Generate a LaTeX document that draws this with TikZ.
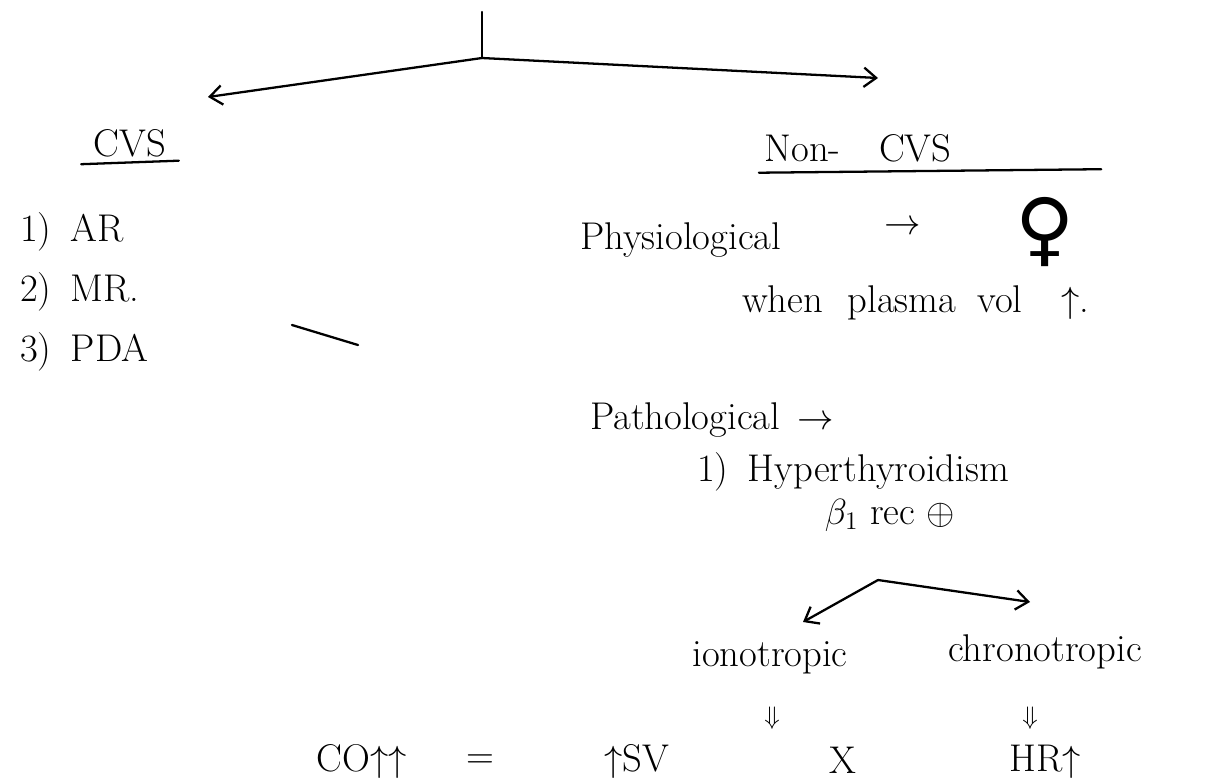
\documentclass[tikz,border=0pt]{standalone}
\usepackage{fontspec}
\newfontfamily\symbolfont{DejaVu Sans}
\usetikzlibrary{arrows.meta}
\tikzset{
  note/.style={font=\fontsize{22}{26}\selectfont, inner sep=1pt},
  small note/.style={font=\fontsize{15}{18}\selectfont, inner sep=1pt},
  pen/.style={line width=1.3pt, line cap=round},
  branch/.style={pen, -{Straight Barb[length=7pt,width=11pt,line width=1.3pt]}},
}

\begin{document}
\begin{tikzpicture}[x=0.02cm,y=-0.02cm]
\useasboundingbox (0,0) rectangle (1227,782);
\coordinate (top) at (482,12);
\coordinate (root) at (482,58);
\coordinate (cvs end) at (208,97);
\coordinate (noncvs end) at (878,78);
\draw[pen] (top) -- (root);
\draw[branch] (root) -- (cvs end);
\draw[branch] (root) -- (noncvs end);
\node[note] (cvs) at (130,143) {CVS};
\draw[pen] ([xshift=-6pt,yshift=-3pt]cvs.south west) -- ([xshift=6pt,yshift=-1pt]cvs.south east);
\node[note,anchor=west] (ar) at (18,232) {1)\enspace AR};
\node[note,anchor=west] (mr) at (18,292) {2)\enspace MR.};
\node[note,anchor=west] (pda) at (18,352) {3)\enspace PDA};
\coordinate (stroke a) at (292,325);
\coordinate (stroke b) at (358,345);
\draw[pen] (stroke a) -- (stroke b);
\node[note] (noncvs) at (858,148) {Non-\quad CVS};
\draw[pen] ([xshift=-2pt,yshift=-5pt]noncvs.south west) -- ([xshift=84pt,yshift=-3pt]noncvs.south east);
\node[note,anchor=west] (phys) at (578,240) {Physiological};
\node[note] (phys arrow) at (903,228) {$\rightarrow$};
\node[font=\symbolfont\fontsize{46}{50}\selectfont, inner sep=0pt] (female) at (1045,232) {♀};
\node[note,anchor=west] (plasma) at (740,303) {when\hspace{14pt}plasma\hspace{12pt}vol\hspace{22pt}$\uparrow$.};
\node[note,anchor=west] (patho) at (588,420) {Pathological\hspace{10pt}$\rightarrow$};
\node[note,anchor=west] (hyper) at (695,472) {1)\enspace{\addfontfeatures{LetterSpace=6}Hyperthyroidism}};
\node[note] (beta) at (890,515) {$\beta_1$ rec $\oplus$};
\coordinate (split) at (878,580);
\coordinate (ino end) at (803,622);
\coordinate (chrono end) at (1030,602);
\draw[branch] (split) -- (ino end);
\draw[branch] (split) -- (chrono end);
\node[note] (ino) at (770,658) {ionotropic};
\node[note] (chrono) at (1045,652) {chronotropic};
\node[small note] (ino down) at (772,718) {$\Downarrow$};
\node[small note] (chrono down) at (1030,718) {$\Downarrow$};
\node[note] (co) at (362,762) {CO$\uparrow\uparrow$};
\node[note] (equals) at (480,762) {=};
\node[note] (sv) at (637,762) {$\uparrow$SV};
\node[note] (times) at (843,760) {X};
\node[note] (hr) at (1045,762) {HR$\uparrow$};
\end{tikzpicture}
\end{document}
